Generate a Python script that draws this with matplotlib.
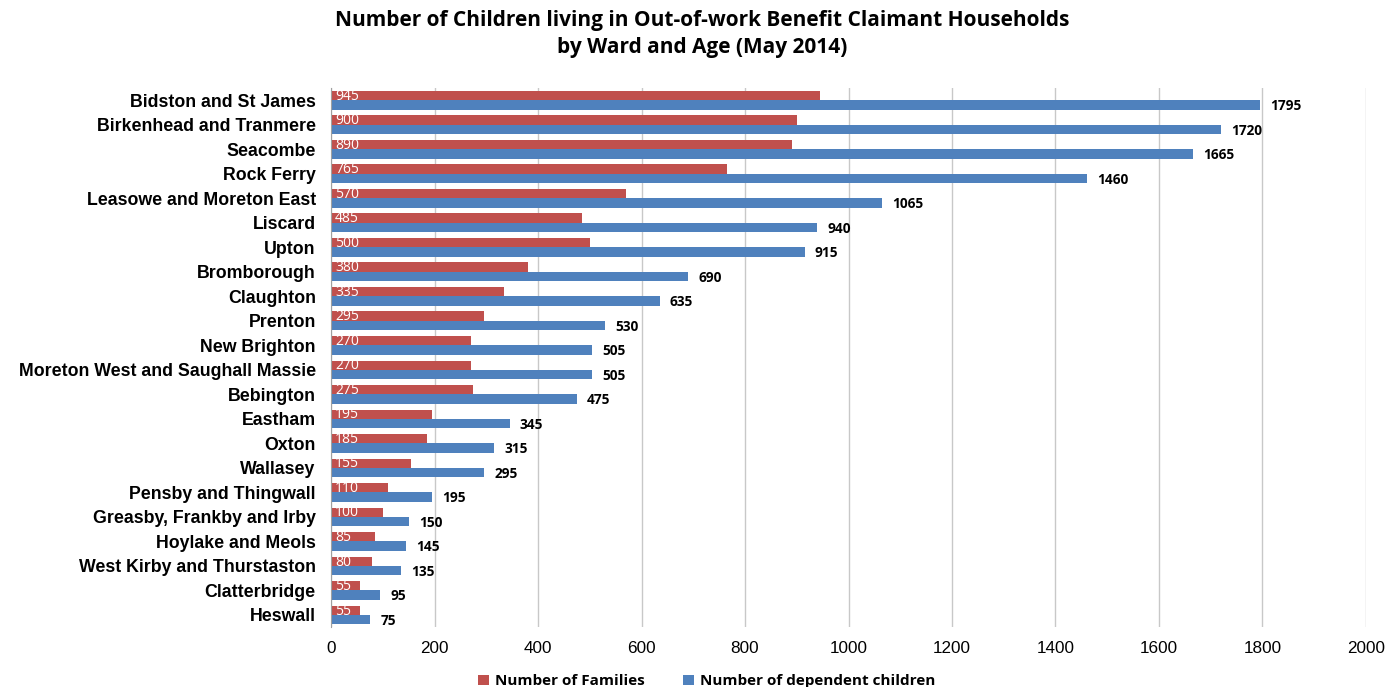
import numpy as np
import matplotlib
matplotlib.use("Agg")
import matplotlib.pyplot as plt

# wards, top to bottom
wards = ["Bidston and St James", "Birkenhead and Tranmere", "Seacombe", "Rock Ferry",
         "Leasowe and Moreton East", "Liscard", "Upton", "Bromborough", "Claughton",
         "Prenton", "New Brighton", "Moreton West and Saughall Massie", "Bebington",
         "Eastham", "Oxton", "Wallasey", "Pensby and Thingwall",
         "Greasby, Frankby and Irby", "Hoylake and Meols", "West Kirby and Thurstaston",
         "Clatterbridge", "Heswall"]
families = [945, 900, 890, 765, 570, 485, 500, 380, 335, 295, 270, 270, 275,
            195, 185, 155, 110, 100, 85, 80, 55, 55]
children = [1795, 1720, 1665, 1460, 1065, 940, 915, 690, 635, 530, 505, 505, 475,
            345, 315, 295, 195, 150, 145, 135, 95, 75]

red = "#C0504D"
blue = "#4F81BD"

fig = plt.figure(figsize=(13.91, 6.87), dpi=100)
ax = fig.add_axes([0.238, 0.087, 0.744, 0.785])

n = len(wards)
pos = np.arange(n)
h = 0.38
ax.barh(pos - h / 2, families, height=h, color=red, label="Number of Families", zorder=2)
ax.barh(pos + h / 2, children, height=h, color=blue, label="Number of dependent children", zorder=2)

for i in range(n):
    ax.text(8, pos[i] - h / 2 + 0.03, str(families[i]), color="white", fontsize=10,
            family="Open Sans", va="center", ha="left", zorder=3)
    ax.text(children[i] + 20, pos[i] + h / 2 + 0.05, str(children[i]), color="black",
            fontsize=9.8, family="Open Sans", fontweight="bold", va="center", ha="left", zorder=3)

ax.set_ylim(n - 0.5, -0.5)
ax.set_xlim(0, 2000)
ax.set_xticks(np.arange(0, 2001, 200))
ax.set_yticks(pos)
ax.set_yticklabels(wards, family="Liberation Sans", fontweight="bold", fontsize=12.8)
for lbl in ax.get_xticklabels():
    lbl.set_family("Liberation Sans")
    lbl.set_fontsize(12.3)
ax.tick_params(axis="y", length=0, pad=11)
ax.tick_params(axis="x", length=0, pad=10)
ax.grid(axis="x", color="#C8C8C8", linewidth=1, zorder=0)
for s in ["top", "right", "bottom"]:
    ax.spines[s].set_visible(False)
ax.spines["left"].set_color("#A0A0A0")

fig.suptitle("Number of Children living in Out-of-work Benefit Claimant Households\nby Ward and Age (May 2014)",
             x=0.505, y=0.985, fontsize=15, fontweight="bold", family="Open Sans", linespacing=1.35)

fig.legend(loc="lower center", bbox_to_anchor=(0.508, -0.022), ncol=2, frameon=False,
           prop={"family": "Open Sans", "weight": "bold", "size": 11},
           handlelength=0.7, handleheight=0.7, columnspacing=2.5, handletextpad=0.4)

fig.savefig("out.png", dpi=100)
